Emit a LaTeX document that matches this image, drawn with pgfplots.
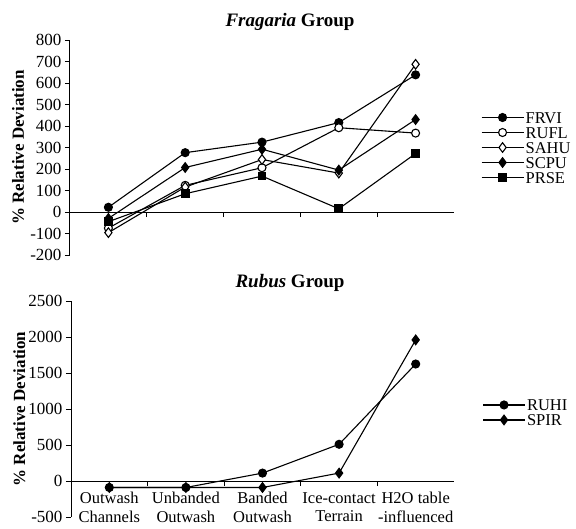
\documentclass[border=0pt]{standalone}
\usepackage{fontspec}
\setmainfont{Liberation Serif}
\usepackage{pgfplots}
\pgfplotsset{compat=1.18}
\begin{document}
\begin{tikzpicture}
\useasboundingbox (0pt,0pt) rectangle (576pt,-528pt);
\pgfplotsset{
  myaxis/.style={
    scale only axis,
    anchor=south west,
    xmin=0, xmax=5,
    axis x line*=middle,
    axis y line*=left,
    axis line style={black, line width=1pt},
    tick style={black, line width=1pt},
    tick align=outside,
    major tick length=5pt,
    xtick={1,2,3,4},
    xticklabels={},
    tick label style={font=\fontsize{17}{19}\selectfont},
    /pgf/number format/assume math mode=true,
    /pgf/number format/1000 sep={},
    ylabel={\textbf{\% Relative Deviation}},
    ylabel style={font=\fontsize{17}{19}\selectfont, at={(axis description cs:-0.135,0.5)}, anchor=center},
    clip=false,
    every axis plot/.append style={black, line width=1.1pt},
    legend style={draw=none, fill=none, font=\fontsize{16.5}{19}\selectfont,
      nodes={inner sep=1.5pt, text height=11.5pt, text depth=0.5pt}, row sep=0pt},
    legend cell align=left,
    legend image code/.code={\draw[mark repeat=2,mark phase=2,##1] plot coordinates {(0pt,0pt) (21pt,0pt) (42pt,0pt)};},
  }
}
% Top: Fragaria
\begin{axis}[myaxis, at={(70pt,-255pt)}, width=384pt, height=215pt,
  ymin=-200, ymax=800, ytick={-200,-100,...,800},
  legend style={at={(axis description cs:1.062,0.50)}, anchor=west}]
\addplot[mark=*, mark size=4pt] coordinates {(0.5,22) (1.5,276) (2.5,325) (3.5,416) (4.5,638)};
\addlegendentry{FRVI}
\addplot[mark=*, mark size=4pt, mark options={fill=white}] coordinates {(0.5,-75) (1.5,124) (2.5,206) (3.5,392) (4.5,367)};
\addlegendentry{RUFL}
\addplot[mark=diamond*, mark size=4.8pt, mark options={fill=white}] coordinates {(0.5,-96) (1.5,116) (2.5,244) (3.5,181) (4.5,687)};
\addlegendentry{SAHU}
\addplot[mark=diamond*, mark size=4.8pt] coordinates {(0.5,-30) (1.5,207) (2.5,292) (3.5,195) (4.5,430)};
\addlegendentry{SCPU}
\addplot[mark=square*, mark size=3.8pt] coordinates {(0.5,-45) (1.5,85) (2.5,167) (3.5,15) (4.5,272)};
\addlegendentry{PRSE}
\end{axis}
\node[font=\fontsize{19}{22}\selectfont\bfseries] at (290pt,-22pt) {\textit{Fragaria} Group};
% Bottom: Rubus
\begin{axis}[myaxis, at={(71pt,-517pt)}, width=383pt, height=216pt,
  ymin=-500, ymax=2500, ytick={-500,0,...,2500},
  extra x ticks={0.5,1.5,2.5,3.5,4.5},
  extra x tick labels={{Outwash\\Channels},{Unbanded\\Outwash},{Banded\\Outwash},{Ice-contact\\Terrain},{H2O table\\-influenced}},
  extra x tick style={major tick length=0pt, tick label style={align=center, font=\fontsize{16.5}{18.5}\selectfont, inner sep=1pt, yshift=-10pt}},
  reverse legend,
  legend style={at={(axis description cs:1.066,0.484)}, anchor=west}]
\addplot[mark=diamond*, mark size=4.8pt] coordinates {(0.5,-90) (1.5,-90) (2.5,-90) (3.5,110) (4.5,1960)};
\addlegendentry{SPIR}
\addplot[mark=*, mark size=4pt] coordinates {(0.5,-90) (1.5,-90) (2.5,110) (3.5,510) (4.5,1625)};
\addlegendentry{RUHI}
\end{axis}
\node[font=\fontsize{19}{22}\selectfont\bfseries] at (290pt,-283pt) {\textit{Rubus} Group};
\end{tikzpicture}
\end{document}
